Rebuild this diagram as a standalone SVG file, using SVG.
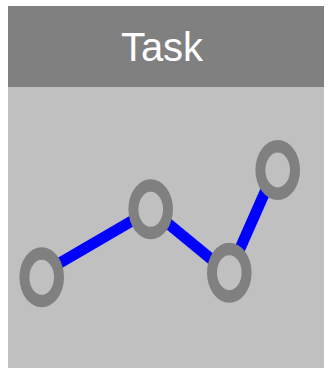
<svg xmlns="http://www.w3.org/2000/svg" width="328" height="368" viewBox="0 0 328 368">
<style>
.o{fill:#808080}
.i{fill:#c0c0c0}
.c{fill:none;stroke:#0000ff;stroke-width:11}
.t{font-family:"Liberation Sans",Arial,sans-serif;font-size:40px;fill:#fff;text-anchor:middle}
</style>
<defs><g id="ring"><ellipse class="o" rx="22.300" ry="30"/><ellipse class="i" rx="12.300" ry="17.500"/></g></defs>
<rect width="328" height="368" fill="#fff"/>
<g id="panel"><rect x="8" y="87" width="316" height="281" fill="#c0c0c0"/></g>
<g id="header"><rect x="8" y="6" width="316" height="81" fill="#808080"/><text class="t" x="162" y="60.500">Task</text></g>
<g id="connectors"><path class="c" d="M41.700 273.500L150.700 210M150.700 209.300L229.300 274M229.300 272.700L274.700 170"/></g>
<g id="node1"><use href="#ring" x="41.700" y="277.300"/></g>
<g id="node2"><use href="#ring" x="150.700" y="209.300"/></g>
<g id="node3"><use href="#ring" x="229.300" y="272.700"/></g>
<g id="node4"><use href="#ring" x="277.700" y="170"/></g>
</svg>
